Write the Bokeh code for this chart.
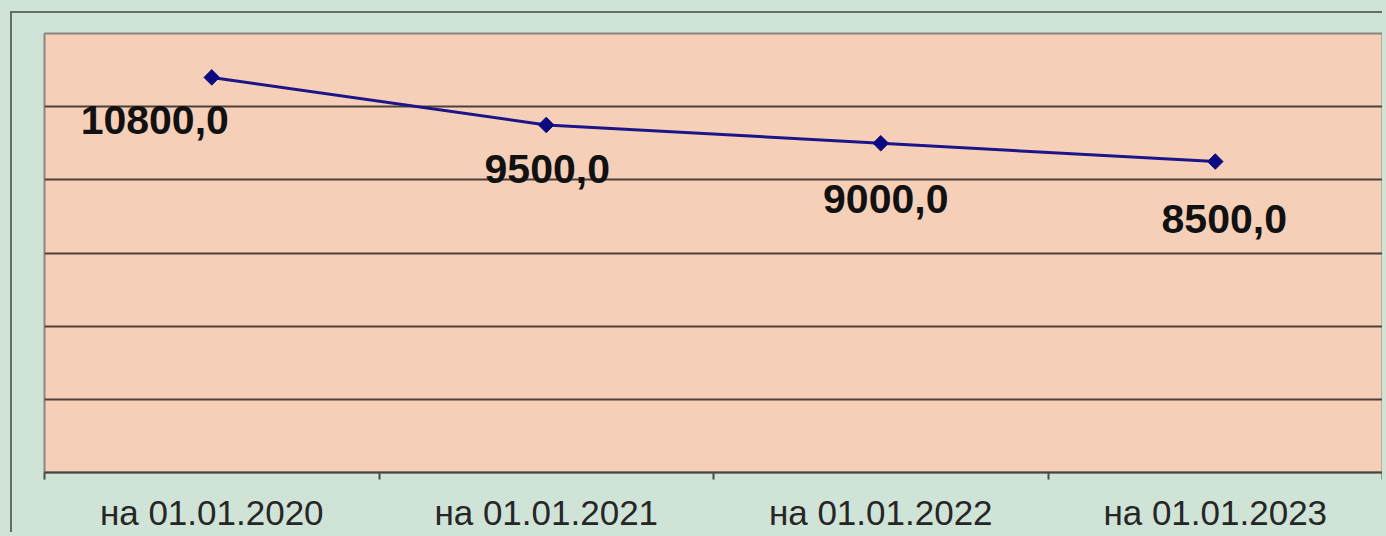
import math
from bokeh.plotting import figure
from bokeh.models import ColumnDataSource, FixedTicker, Range1d
from bokeh.core.properties import value
from bokeh.embed import file_html
from bokeh.resources import INLINE

categories = ["на 01.01.2020", "на 01.01.2021", "на 01.01.2022", "на 01.01.2023"]
values = [10800.0, 9500.0, 9000.0, 8500.0]
labels = ["10800,0", "9500,0", "9000,0", "8500,0"]
y_ticks = [0, 2000, 4000, 6000, 8000, 10000, 12000]

# label placement (screen offsets, px)
label_dx = [-57, 1, 5, 9]
label_dy = [43, 44, 56, 57]

xs = [i + 0.5 for i in range(len(categories))]
src = ColumnDataSource(dict(x=xs, y=values, lab=labels, dx=label_dx, dy=label_dy))

BG = "#cfe3d7"
PLOT_BG = "#f6cfb8"

p = figure(width=1372, height=521, output_backend="svg", toolbar_location=None,
           x_range=Range1d(0, len(categories)), y_range=Range1d(y_ticks[0], y_ticks[-1]),
           min_border_left=32, min_border_top=20, min_border_bottom=58, min_border_right=2)
p.margin = (11, 0, 0, 10)
p.styles = {"border-top": "2px solid #5f6e66", "border-left": "2px solid #5f6e66"}

p.background_fill_color = PLOT_BG
p.border_fill_color = BG
p.outline_line_color = "#8a8680"
p.outline_line_width = 2

p.yaxis.visible = False
p.ygrid.ticker = FixedTicker(ticks=y_ticks)
p.ygrid.grid_line_color = "#4e4038"
p.ygrid.grid_line_width = 2
p.xgrid.grid_line_color = None

ax = p.xaxis[0]
ax.ticker = FixedTicker(ticks=xs, minor_ticks=list(range(len(categories) + 1)))
ax.major_label_overrides = {x: c for x, c in zip(xs, categories)}
ax.major_tick_line_color = None
ax.minor_tick_in = 0
ax.minor_tick_out = 7
ax.minor_tick_line_color = "#4a4a4a"
ax.minor_tick_line_width = 2
ax.axis_line_color = "#4a4540"
ax.axis_line_width = 2
ax.major_label_text_font = "Liberation Sans"
ax.major_label_text_font_size = "35px"
ax.major_label_text_color = "#262626"
ax.major_label_standoff = 13

p.line("x", "y", source=src, line_color="#1c1488", line_width=3)
p.scatter("x", "y", source=src, marker="square", angle=math.pi / 4, size=11,
          fill_color="#0c0a80", line_color="#0c0a80")
p.text("x", "y", text="lab", source=src, x_offset="dx", y_offset="dy",
       text_align="center", text_baseline="middle",
       text_font=value("Liberation Sans"), text_font_style="bold",
       text_font_size="41px", text_color="#111111")

html = file_html(p, INLINE)
html = html.replace("</head>", "<style>html,body{background:%s;}</style></head>" % BG, 1)
open("out.html", "w").write(html)
